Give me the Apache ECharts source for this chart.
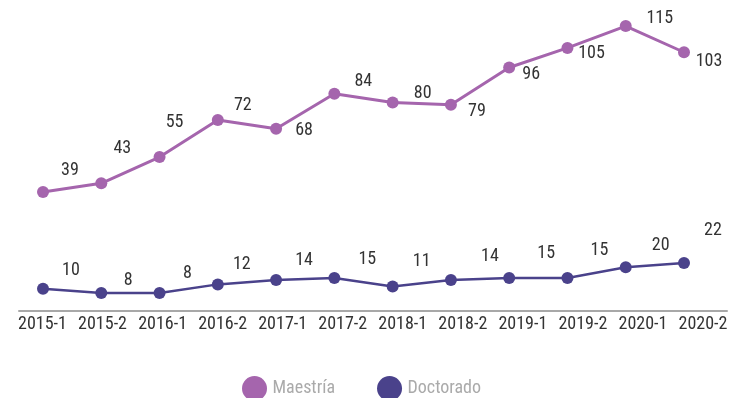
<!DOCTYPE html>
<html><head><meta charset="utf-8">
<script src="https://cdn.jsdelivr.net/npm/echarts@6/dist/echarts.min.js"></script>
<style>html,body{margin:0;padding:0;background:#fff}#c{width:743px;height:398px}</style>
</head><body><div id="c"></div>
<script>
const categories = ['2015-1','2015-2','2016-1','2016-2','2017-1','2017-2','2018-1','2018-2','2019-1','2019-2','2020-1','2020-2'];
const maestria = [39,43,55,72,68,84,80,79,96,105,115,103];
const doctorado = [10,8,8,12,14,15,11,14,15,15,20,22];

// label placement (style)
const mOff = [[27,-22],[21,-35],[15,-35],[25,-14],[28,2],[29,-12],[30,-9],[26,7],[22,7],[24,6],[34,-8],[25,9]];
const dOff = [[28,-18],[27,-12],[28,-19],[24,-20],[28,-20],[33,-18],[29,-25],[39,-24],[37,-24],[32,-27],[35,-22],[29,-32]];

const FONT = "'Liberation Sans Narrow','Arial Narrow','Roboto Condensed',Roboto,sans-serif";
const mColor = '#a565ad', dColor = '#4a428b';

function withLabels(vals, offs){
  return vals.map((v,i)=>({value:v,label:{offset:offs[i]}}));
}

const chart = echarts.init(document.getElementById('c'));
chart.setOption({
  animation:false,
  grid:[
    {left:19,right:16,top:20,bottom:87},
    {left:42.5,right:40,top:20,bottom:87},
    {left:43,right:59,top:20,bottom:87}
  ],
  xAxis:[
    {gridIndex:0,type:'category',data:categories,boundaryGap:true,
      axisLine:{lineStyle:{color:'#a8a8a8',width:2}},axisTick:{show:false},axisLabel:{show:false}},
    {gridIndex:1,type:'category',data:categories,boundaryGap:false,
      axisLine:{show:false},axisTick:{show:false},
      axisLabel:{color:'#333',fontSize:18,fontFamily:FONT,margin:4,interval:0}},
    {gridIndex:2,type:'category',data:categories,boundaryGap:false,show:false}
  ],
  yAxis:[
    {gridIndex:0,type:'value',show:false,splitLine:{show:false}},
    {gridIndex:1,type:'value',show:false,splitLine:{show:false}},
    {gridIndex:2,type:'value',show:false,min:-15.48,max:117.77,splitLine:{show:false}},
    {gridIndex:2,type:'value',show:false,min:-0.42,max:135.37,splitLine:{show:false}}
  ],
  legend:{
    data:['Maestría','Doctorado'],left:237,top:371,icon:'circle',itemWidth:26,itemHeight:25,itemGap:42,
    textStyle:{color:'#aaaaaa',fontSize:18,fontFamily:FONT}
  },
  series:[
    {name:'Maestría',type:'line',xAxisIndex:2,yAxisIndex:2,data:withLabels(maestria,mOff),
      symbol:'circle',symbolSize:12,itemStyle:{color:mColor},lineStyle:{color:mColor,width:3},
      label:{show:true,position:'inside',color:'#333',fontSize:18,fontFamily:FONT}},
    {name:'Doctorado',type:'line',xAxisIndex:2,yAxisIndex:3,data:withLabels(doctorado,dOff),
      symbol:'circle',symbolSize:12,itemStyle:{color:dColor},lineStyle:{color:dColor,width:2.5},
      label:{show:true,position:'inside',color:'#333',fontSize:18,fontFamily:FONT}}
  ]
});
</script></body></html>
